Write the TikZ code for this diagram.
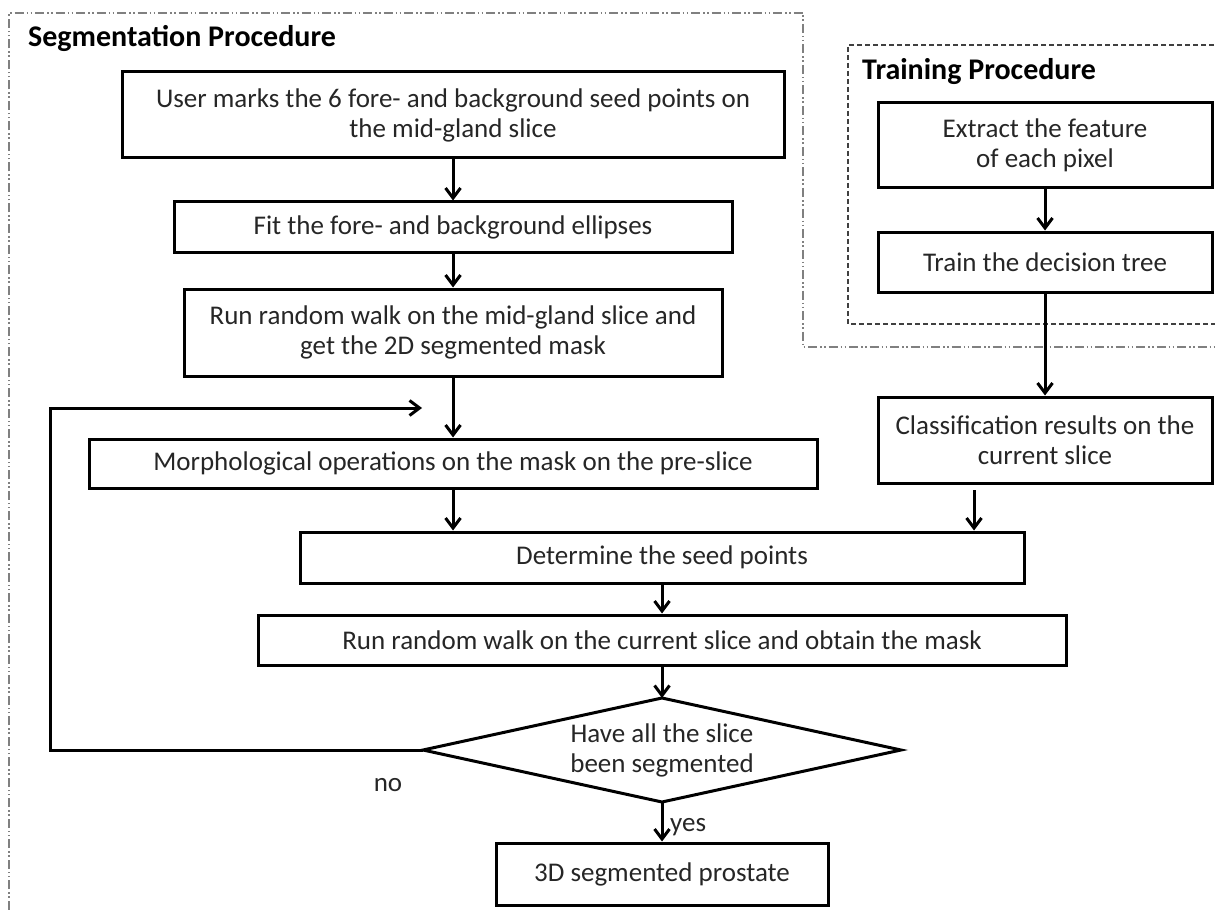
\documentclass[tikz,border=0pt]{standalone}
\usepackage{fontspec}
\setmainfont{Carlito}
\usetikzlibrary{arrows.meta,shapes.geometric}
\begin{document}
\begin{tikzpicture}[x=1pt,y=-1pt,
 box/.style={draw=black, line width=3pt, rectangle, inner sep=0pt, align=center, font=\fontsize{27}{30}\selectfont, text=black!85},
 arr/.style={line width=3pt, -{Straight Barb[length=10pt,width=15pt]}},
 ttl/.style={font=\fontsize{30}{34}\selectfont\bfseries, anchor=base west, inner sep=0pt},
 lbl/.style={font=\fontsize{27}{30}\selectfont, inner sep=0pt, text=black!85},
 outerframe/.style={draw=gray, line width=1.5pt, dash pattern=on 9pt off 3pt on 1.5pt off 2.5pt on 1.5pt off 3pt},
 innerframe/.style={draw=darkgray, line width=1.2pt, dash pattern=on 5pt off 3pt}]
\useasboundingbox (0,0) rectangle (1215,912);
% frames
\draw[outerframe] (9,930) -- (9,13) -- (803,13) -- (803,347) -- (1230,347);
\draw[innerframe] (1230,45) -- (848,45) -- (848,324) -- (1230,324);
\node[ttl] (segt) at (28,47) {Segmentation Procedure};
\node[ttl] (trt) at (862,80) {Training Procedure};
% segmentation boxes
\node[box, minimum width=662pt, minimum height=86pt] (b1) at (453,115) {User marks the 6 fore- and background seed points on\\the mid-gland slice};
\node[box, minimum width=558pt, minimum height=50pt] (b2) at (453,227) {Fit the fore- and background ellipses};
\node[box, minimum width=538pt, minimum height=87pt] (b3) at (453,332.5) {Run random walk on the mid-gland slice and\\get the 2D segmented mask};
\node[box, minimum width=728pt, minimum height=49pt] (b4) at (453,463.5) {Morphological operations on the mask on the pre-slice};
\node[box, minimum width=724pt, minimum height=51pt] (b5) at (662,557.5) {Determine the seed points};
\node[box, minimum width=808pt, minimum height=50pt] (b6) at (662,640) {Run random walk on the current slice and obtain the mask};
% decision diamond
\coordinate (dT) at (662,698);
\coordinate (dB) at (662,802);
\coordinate (dL) at (423,750);
\coordinate (dR) at (901,750);
\draw[line width=3pt, line join=miter] (dT) -- (dR) -- (dB) -- (dL) -- cycle;
\node[lbl, align=center] (dia) at (662,750) {Have all the slice\\been segmented};
\node[box, minimum width=332pt, minimum height=62pt] (b7) at (662,874) {3D segmented prostate};
% training boxes
\node[box, minimum width=334pt, minimum height=85pt] (t1) at (1045,145.5) {Extract the feature\\of each pixel};
\node[box, minimum width=334pt, minimum height=60pt] (t2) at (1045,262) {Train the decision tree};
\node[box, minimum width=334pt, minimum height=86pt] (cls) at (1045,440) {Classification results on the\\current slice};
% labels
\node[lbl] (no) at (388,785) {no};
\node[lbl, anchor=west] (yes) at (670,827) {yes};
% connectors
\draw[arr] (b1) -- (b2);
\draw[arr] (b2) -- (b3);
\draw[arr] (b3) -- (b4);
\draw[arr] (b4.south) -- (b4.south |- b5.north);
\coordinate (cs) at (974,490);
\draw[arr] (cs) -- (cs |- b5.north);
\draw[arr] (b5.south -| b6.north) -- (b6.north);
\draw[arr] (b6.south) -- (dT);
\draw[arr] (dB) -- (b7.north);
\coordinate (lp) at (50,408);
\coordinate (lpend) at (422,408);
\draw[arr] (dL) -| (lp) -- (lpend);
\draw[arr] (t1) -- (t2);
\draw[arr] (t2) -- (cls);
\end{tikzpicture}
\end{document}
